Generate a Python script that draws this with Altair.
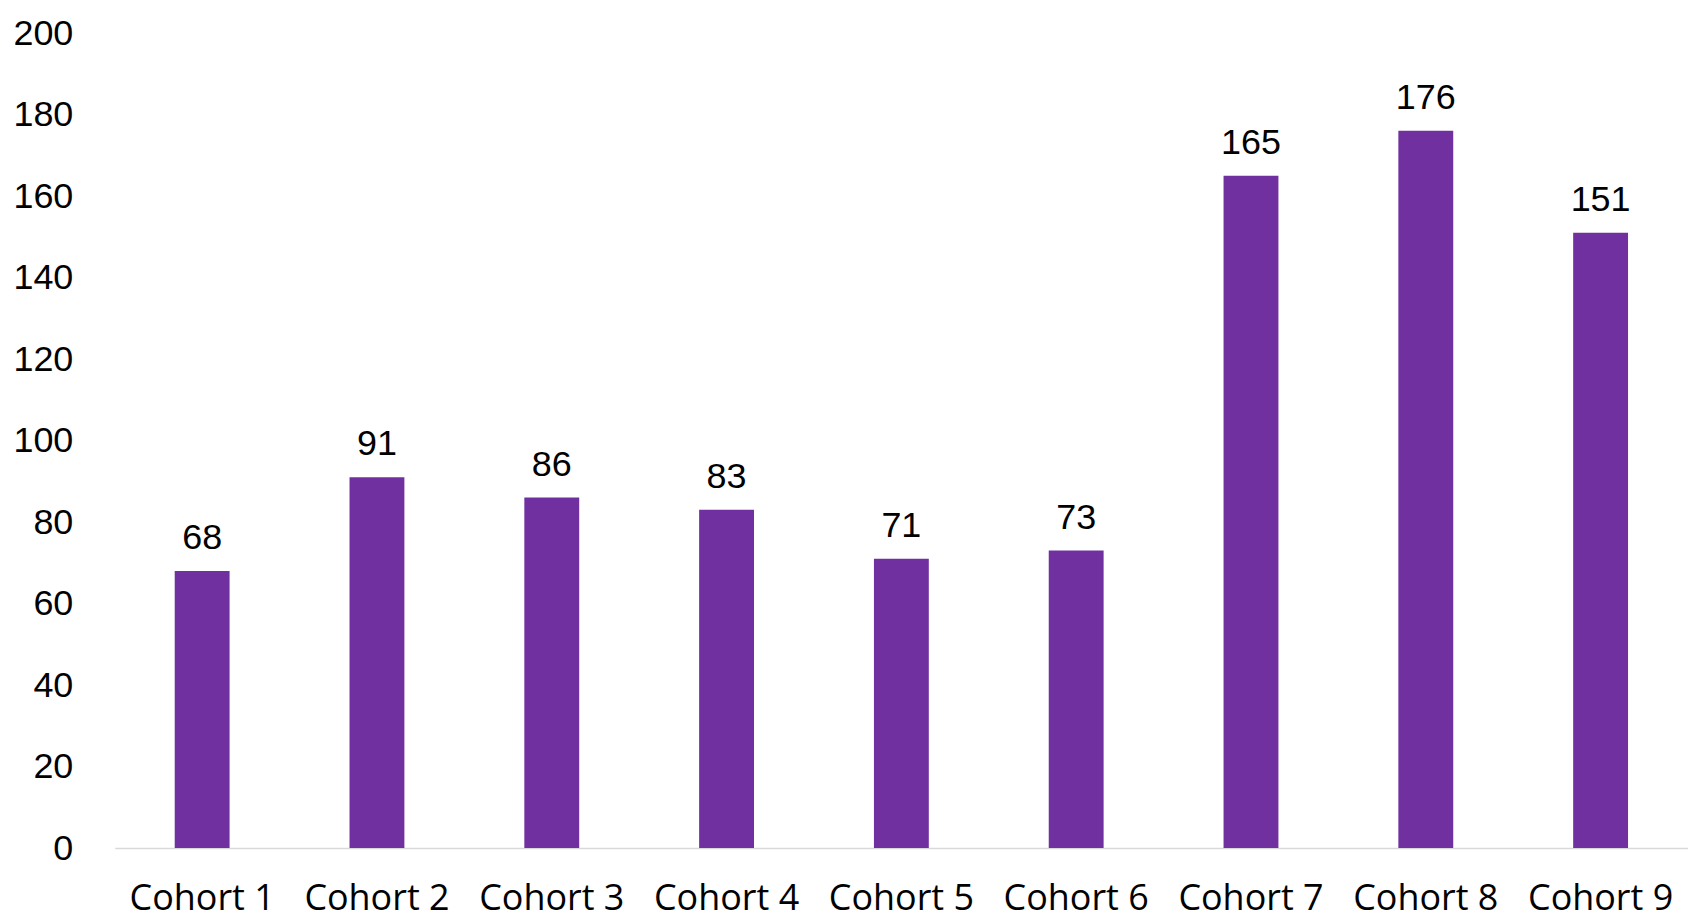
import altair as alt
import pandas as pd

categories = ["Cohort 1", "Cohort 2", "Cohort 3", "Cohort 4", "Cohort 5",
              "Cohort 6", "Cohort 7", "Cohort 8", "Cohort 9"]
values = [68, 91, 86, 83, 71, 73, 165, 176, 151]
y_ticks = [0, 20, 40, 60, 80, 100, 120, 140, 160, 180, 200]

df = pd.DataFrame({"cohort": categories, "value": values})

FONT = "Open Sans"
NUM_FONT = "Liberation Sans"
PURPLE = "#7030A0"

x_enc = alt.X("cohort:N", sort=categories, title=None,
              scale=alt.Scale(paddingInner=0, paddingOuter=0),
              axis=alt.Axis(labelAngle=0, labelFont=FONT, labelFontSize=36,
                            labelColor="#000000", ticks=False, tickSize=0,
                            labelPadding=62, labelBaseline="alphabetic",
                            domainColor="#d9d9d9", domainWidth=1.5,
                            grid=False))
y_enc = alt.Y("value:Q", title=None,
              scale=alt.Scale(domain=[0, 200], nice=False),
              axis=alt.Axis(values=y_ticks, labelFont=NUM_FONT, labelFontSize=36,
                            labelColor="#000000", ticks=False, tickSize=0,
                            labelPadding=42, domain=False, grid=False))

bars = alt.Chart(df).mark_bar(color=PURPLE, size=55).encode(x=x_enc, y=y_enc)

labels = alt.Chart(df).mark_text(font=NUM_FONT, fontSize=36, color="#000000",
                                 baseline="alphabetic", align="center",
                                 dy=-22).encode(
    x=alt.X("cohort:N", sort=categories),
    y=alt.Y("value:Q"),
    text=alt.Text("value:Q"),
)

chart = (bars + labels).properties(
    width=1577, height=817,
    padding={"left": 107, "top": 24, "right": 0, "bottom": 73},
    autosize=alt.AutoSizeParams(type="none"),
).configure(background="#ffffff").configure_view(stroke=None, strokeWidth=0)

chart.save("out.html", embed_options={"renderer": "svg", "actions": False})
